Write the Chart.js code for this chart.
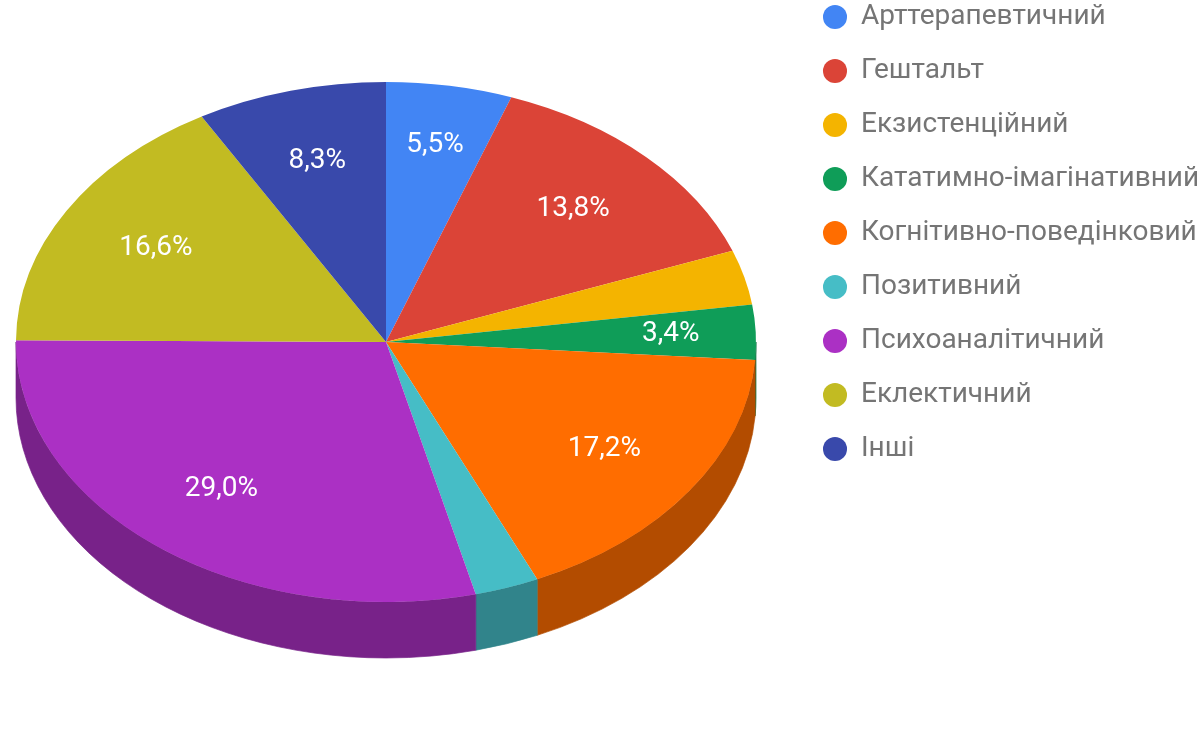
<!DOCTYPE html>
<html>
<head>
<meta charset="utf-8">
<script src="https://cdn.jsdelivr.net/npm/chart.js@4.4.1/dist/chart.umd.min.js"></script>
<style>
  html, body { margin: 0; padding: 0; background: #ffffff; overflow: hidden; }
  #wrap { width: 1200px; height: 742px; position: relative; overflow: hidden; }
  #c { position: absolute; left: -30px; top: -40px; }
</style>
</head>
<body>
<div id="wrap"><canvas id="c" width="1230" height="800"></canvas></div>
<script>
// ---- data ----
const categories = ['Арттерапевтичний', 'Гештальт', 'Екзистенційний', 'Кататимно-імагінативний',
  'Когнітивно-поведінковий', 'Позитивний', 'Психоаналітичний', 'Еклектичний', 'Інші'];
const shares = [5.5, 13.8, 3.4, 3.4, 17.2, 2.8, 29.0, 16.6, 8.3];
const sliceLabels = ['5,5%', '13,8%', '', '3,4%', '17,2%', '', '29,0%', '16,6%', '8,3%'];
const topColors = ['#4285f4', '#db4437', '#f4b400', '#0f9d58', '#ff6d00', '#46bdc6', '#ab30c4', '#c2bb22', '#3949ab'];

// ---- style ----
const TILT = 260 / 370;   // vertical squash of the pie
const DEPTH = 56;         // pixel thickness of the pie side

function darken(hex, f) {
  const n = parseInt(hex.slice(1), 16);
  const r = Math.round(((n >> 16) & 255) * f);
  const g = Math.round(((n >> 8) & 255) * f);
  const b = Math.round((n & 255) * f);
  return `rgb(${r},${g},${b})`;
}

function pieGeom(chart) {
  const meta = chart.getDatasetMeta(0);
  const a0 = meta.data[0];
  return { meta, cx: a0.x, cy: a0.y };
}

const pie3d = {
  id: 'pie3d',
  beforeDatasetsDraw(chart) {
    const ctx = chart.ctx;
    const { meta, cx, cy } = pieGeom(chart);
    ctx.save();
    ctx.translate(cx, cy);
    ctx.scale(1, TILT);
    ctx.translate(-cx, -cy);
    const d = DEPTH / TILT;
    // side walls (front half only: canvas angles 0..PI)
    meta.data.forEach((arc, i) => {
      const p = arc.getProps(['startAngle', 'endAngle', 'outerRadius']);
      const s = Math.max(p.startAngle, 0);
      const e = Math.min(p.endAngle, Math.PI);
      if (e <= s) return;
      const col = darken(topColors[i], 0.7);
      ctx.beginPath();
      ctx.arc(cx, cy, p.outerRadius, s, e, false);
      ctx.arc(cx, cy + d, p.outerRadius, e, s, true);
      ctx.closePath();
      ctx.fillStyle = col;
      ctx.fill();
      ctx.strokeStyle = col;
      ctx.lineWidth = 0.8;
      ctx.stroke();
    });
    // the squash stays active while the library draws its slices
  },
  afterDatasetsDraw(chart) {
    const ctx = chart.ctx;
    ctx.restore();
    const { meta, cx, cy } = pieGeom(chart);
    ctx.save();
    ctx.fillStyle = '#ffffff';
    ctx.font = '28px Roboto';
    ctx.textAlign = 'center';
    ctx.textBaseline = 'middle';
    meta.data.forEach((arc, i) => {
      const txt = sliceLabels[i];
      if (!txt) return;
      const p = arc.getProps(['startAngle', 'endAngle', 'outerRadius']);
      const mid = (p.startAngle + p.endAngle) / 2;
      const f = shares[i] < 8 ? 0.77 : 0.72;
      const x = cx + Math.cos(mid) * p.outerRadius * f;
      const y = cy + Math.sin(mid) * p.outerRadius * f * TILT;
      ctx.fillText(txt, x, y);
    });
    ctx.restore();
  }
};

new Chart(document.getElementById('c'), {
  type: 'pie',
  data: {
    labels: categories,
    datasets: [{
      data: shares,
      backgroundColor: topColors,
      borderWidth: 0,
      radius: 370,
      clip: 120
    }]
  },
  options: {
    responsive: false,
    animation: false,
    events: [],
    layout: { padding: { left: 5, right: 3, top: 17, bottom: 53 } },
    plugins: {
      tooltip: { enabled: false },
      legend: {
        position: 'right',
        align: 'start',
        maxWidth: 400,
        labels: {
          usePointStyle: true,
          pointStyle: 'circle',
          boxWidth: 24,
          boxHeight: 17,
          padding: 26,
          color: '#757575',
          font: { family: 'Roboto', size: 28 }
        }
      }
    }
  },
  plugins: [pie3d]
});
</script>
</body>
</html>
